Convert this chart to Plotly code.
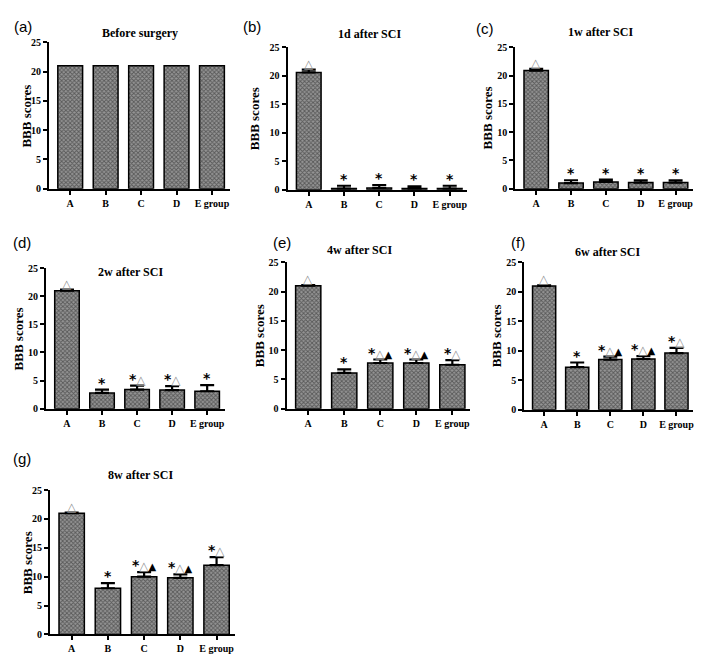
import plotly.graph_objects as go

W, H = 704, 656
groups = ["A", "B", "C", "D", "E group"]

titles = ["Before surgery", "1d after SCI", "1w after SCI", "2w after SCI",
          "4w after SCI", "6w after SCI", "8w after SCI"]
panel_tags = ["(a)", "(b)", "(c)", "(d)", "(e)", "(f)", "(g)"]

vals_a = [21, 21, 21, 21, 21]
vals_b = [20.6, 0.2, 0.3, 0.2, 0.2]
vals_c = [20.9, 1.0, 1.2, 1.1, 1.1]
vals_d = [21.0, 2.8, 3.4, 3.3, 3.1]
vals_e = [21.0, 6.1, 7.8, 7.8, 7.5]
vals_f = [21.0, 7.2, 8.5, 8.6, 9.6]
vals_g = [21.0, 8.0, 10.0, 9.8, 12.0]

err_a = [0, 0, 0, 0, 0]
err_b = [0.5, 0.5, 0.5, 0.4, 0.5]
err_c = [0.3, 0.5, 0.4, 0.4, 0.4]
err_d = [0.2, 0.6, 0.7, 0.7, 1.1]
err_e = [0.1, 0.6, 0.6, 0.6, 0.8]
err_f = [0.1, 0.8, 0.5, 0.5, 0.9]
err_g = [0.1, 0.9, 0.8, 0.6, 1.4]

marks_a = ["", "", "", "", ""]
marks_b = ["△", "*", "*", "*", "*"]
marks_c = ["△", "*", "*", "*", "*"]
marks_d = ["△", "*", "*△", "*△", "*"]
marks_e = ["△", "*", "*△▲", "*△▲", "*△"]
marks_f = ["△", "*", "*△▲", "*△▲", "*△"]
marks_g = ["△", "*", "*△▲", "*△▲", "*△"]

yticks = [0, 5, 10, 15, 20, 25]

all_vals = [vals_a, vals_b, vals_c, vals_d, vals_e, vals_f, vals_g]
all_err = [err_a, err_b, err_c, err_d, err_e, err_f, err_g]
all_marks = [marks_a, marks_b, marks_c, marks_d, marks_e, marks_f, marks_g]

# pixel boxes: (x0, x1, ytop, ybottom)
boxes = [(41, 222, 29, 178), (280, 460, 34, 179), (508, 686, 34, 178),
         (38, 217, 259, 402), (279, 463, 253, 402), (517, 686, 253, 403),
         (42, 227, 485, 632)]
tag_pos = [(4, 13), (233, 13), (467, 15), (3, 233), (263, 233), (502, 233), (3, 453)]
title_pos = [(132, 19), (362, 20), (593, 18), (123, 263), (352, 240), (600, 242), (133, 470)]
ytitle_x = [19, 247, 480, 10, 252, 489, 19]

SERIF = "Liberation Serif"
fig = go.Figure()
annotations = []

def px(x):
    return x / W

def py(y):
    return 1 - y / H

def mark_html(s):
    out = ""
    for ch in s:
        if ch == "△":
            out += "<span style='color:#8a8a8a;font-size:12px'>△</span>"
        elif ch == "▲":
            out += "<span style='font-size:10px'>▲</span>"
        else:
            out += "<span style='font-size:14px'>*</span>"
    return out

for i in range(7):
    k = "" if i == 0 else str(i + 1)
    x0, x1, yt, yb = boxes[i]
    err = all_err[i]
    fig.add_trace(go.Bar(
        x=groups, y=all_vals[i], width=0.7,
        xaxis="x" + k, yaxis="y" + k,
        marker=dict(color="#8c8c8c", line=dict(color="black", width=1.5),
                    pattern=dict(shape="x", size=3, solidity=0.5,
                                 fgcolor="#1e1e1e", bgcolor="#959595")),
        error_y=dict(type="data", symmetric=False, array=err,
                     arrayminus=[0] * 5, color="black", thickness=2.2, width=7,
                     visible=any(e > 0 for e in err)),
        showlegend=False, hoverinfo="skip"))
    fig.layout["xaxis" + k] = dict(
        domain=[px(x0), px(x1)], anchor="y" + k, showgrid=False,
        showline=True, linecolor="black", linewidth=2,
        ticks="outside", ticklen=4, tickwidth=1.5, tickcolor="black",
        tickvals=groups, ticktext=["<b>" + g + "</b>" for g in groups],
        tickfont=dict(family=SERIF, size=10, color="black"),
        range=[-0.6, 4.5], zeroline=False, fixedrange=True)
    fig.layout["yaxis" + k] = dict(
        domain=[py(yb), py(yt)], anchor="x" + k, range=[0, 25],
        tickvals=yticks, ticktext=["<b>%d</b>" % t for t in yticks],
        showgrid=False, showline=True, linecolor="black",
        linewidth=2, ticks="outside", ticklen=4, tickwidth=1.5,
        tickcolor="black", zeroline=False,
        tickfont=dict(family=SERIF, size=10, color="black"), fixedrange=True)
    for j, g in enumerate(groups):
        m = all_marks[i][j]
        if m:
            annotations.append(dict(
                x=g, y=all_vals[i][j] + err[j], xref="x" + k, yref="y" + k,
                text="<b>" + mark_html(m) + "</b>", showarrow=False,
                yanchor="bottom", yshift=-3,
                font=dict(family="DejaVu Sans", size=11, color="black")))
    tx, ty = tag_pos[i]
    annotations.append(dict(x=px(tx), y=py(ty), xref="paper", yref="paper",
                            text=panel_tags[i], showarrow=False,
                            xanchor="left", yanchor="middle",
                            font=dict(family="Liberation Sans", size=15, color="black")))
    cx, cy = title_pos[i]
    annotations.append(dict(x=px(cx), y=py(cy), xref="paper", yref="paper",
                            text="<b>" + titles[i] + "</b>", showarrow=False,
                            xanchor="center", yanchor="middle",
                            font=dict(family=SERIF, size=12, color="black")))
    annotations.append(dict(x=px(ytitle_x[i]), y=py((yt + yb) / 2),
                            xref="paper", yref="paper",
                            text="<b>BBB scores</b>", showarrow=False,
                            textangle=-90, xanchor="center", yanchor="middle",
                            font=dict(family=SERIF, size=13, color="black")))

fig.update_layout(width=W, height=H, margin=dict(l=0, r=0, t=0, b=0),
                  paper_bgcolor="white", plot_bgcolor="white",
                  annotations=annotations, bargap=0.3)
fig.write_html("out.html")
